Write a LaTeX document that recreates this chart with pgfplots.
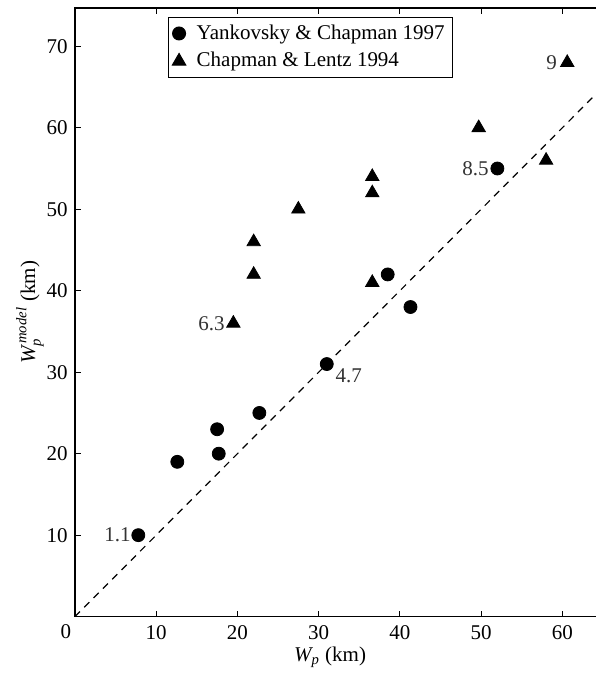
\documentclass[border=0pt]{standalone}
\usepackage{fontspec}
\setmainfont{Liberation Serif}
\usepackage{amsmath}
\usepackage{pgfplots}
\pgfplotsset{compat=1.18}
\usetikzlibrary{calc}

% Yankovsky & Chapman (1997): measured vs. modelled plume width
\pgfplotstableread{
x     y
7.8   10
12.6  19
17.5  23
17.7  20
22.7  25
31.0  31
38.5  42
41.3  38
52.0  55
}\yankovsky

% Chapman & Lentz (1994)
\pgfplotstableread{
x     y
19.5  36
22.0  42
22.0  46
27.5  50
36.6  41
36.6  52
36.6  54
49.7  60
58.0  56
60.6  68
}\chapman

\begin{document}
\fontsize{10.5}{12.6}\selectfont
\begin{tikzpicture}
\begin{axis}[
  scale only axis,
  width=260.5pt, height=304.5pt,
  xmin=0, xmax=64.1, ymin=0, ymax=74.7,
  xtick={10,20,...,60}, ytick={10,20,...,70},
  ytick pos=left,
  tick align=inside,
  major tick length=3pt,
  tick style={black, line width=0.6pt},
  axis line style={draw=none},
  clip=false,
  /pgf/number format/assume math mode=true,
  ticklabel style={font=\fontsize{10.5}{12}\selectfont},
  xticklabel style={yshift=-1pt},
  xlabel={$\textit{W}_{\textit{p}}$ (km)},
  ylabel={$\textit{W}_{\textit{p}}^{\,\textit{model}}$ (km)},
  xlabel style={at={(axis description cs:0.49,-0.0673)}, anchor=center},
  ylabel style={at={(axis description cs:-0.0864,0.5)}, anchor=center},
  legend style={at={(axis description cs:0.1785,0.985)}, anchor=north west,
    draw=black, line width=0.5pt, font=\fontsize{10.5}{12}\selectfont,
    inner xsep=2pt, inner ysep=1.5pt, row sep=1pt,
    /tikz/every odd column/.append style={column sep=3.5pt}},
  legend cell align=left,
]
  % one-to-one reference line
  \addplot[black, line width=0.6pt, dash pattern=on 3.6pt off 3pt, forget plot]
    coordinates {(0,0) (64.1,64.1)};

  \addplot[only marks, mark=*, mark size=3.25pt, black] table[x=x,y=y]{\yankovsky};
  \addlegendentry{Yankovsky \& Chapman 1997}
  \addplot[only marks, mark=triangle*, mark size=3.85pt, black] table[x=x,y=y]{\chapman};
  \addlegendentry{Chapman \& Lentz 1994}

  % frame on three sides
  \draw[line width=0.6pt] (rel axis cs:1,1) -- (rel axis cs:0,1) -- (rel axis cs:0,0) -- (rel axis cs:1,0);

  % corner label and point annotations
  \node[anchor=north, inner sep=0pt] at ([xshift=-4.5pt,yshift=-4pt]axis cs:0,0) {0};
  \begin{scope}[every node/.style={inner sep=0pt, text=black!80}]
    \node[anchor=east] at ([xshift=-3.6pt]axis cs:7.8,10) {1.1};
    \node[anchor=east] at ([xshift=-4.2pt]axis cs:19.5,36) {6.3};
    \node[anchor=west] at ([xshift=4.2pt,yshift=-5.8pt]axis cs:31,31) {4.7};
    \node[anchor=east] at ([xshift=-4.2pt]axis cs:52,55) {8.5};
    \node[anchor=east] at ([xshift=-5pt]axis cs:60.6,68) {9};
  \end{scope}
\end{axis}
\pgfresetboundingbox
\path ($(current axis.south west)+(-37.5pt,-30.2pt)$) rectangle ($(current axis.north east)+(0,4pt)$);
\end{tikzpicture}
\end{document}
